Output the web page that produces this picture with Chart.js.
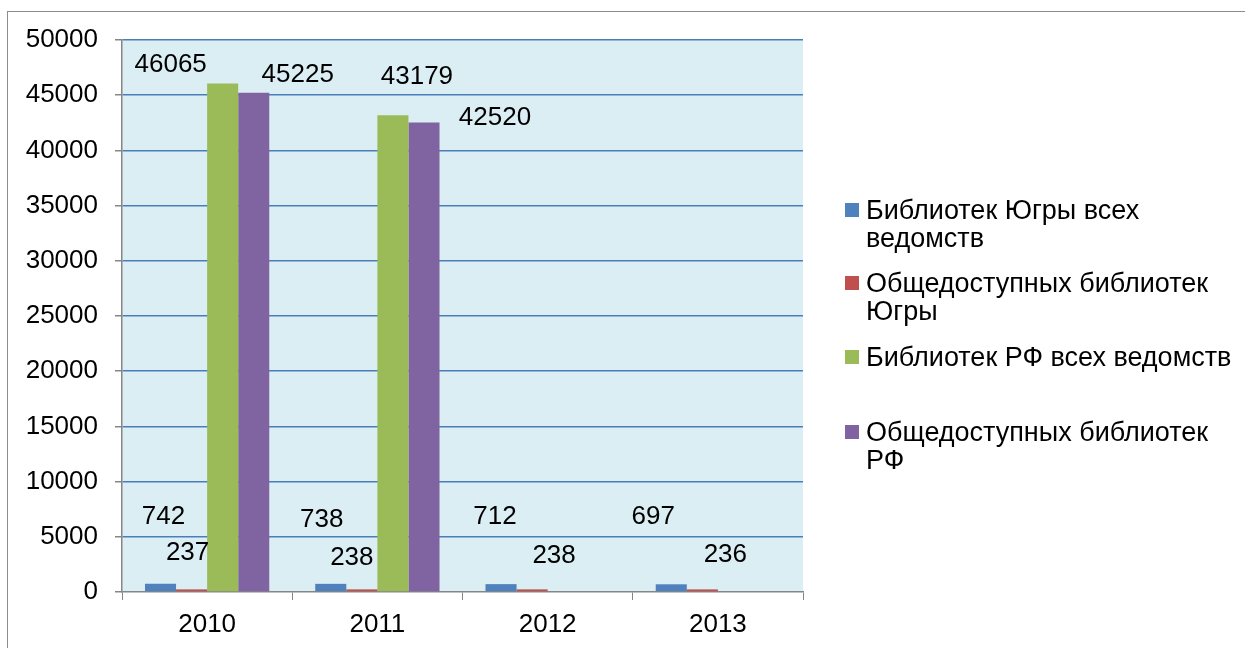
<!DOCTYPE html>
<html>
<head>
<meta charset="utf-8">
<script src="https://cdn.jsdelivr.net/npm/chart.js@4"></script>
<style>
  body { margin: 0; background: #fff; font-family: "Liberation Sans", Arial, sans-serif; }
  #wrap { position: relative; width: 1245px; height: 648px; overflow: hidden; }
  #frame { position: absolute; left: 7px; top: 11px; width: 1260px; height: 660px; border: 1px solid #8c8c8c; }
  #myChart { position: absolute; left: 0; top: 0; }
  #legend { position: absolute; left: 845px; top: 196px; font-size: 27px; line-height: 28px; color: #000; white-space: nowrap; }
  .item { position: relative; padding-left: 21px; }
  .box { position: absolute; left: 0; top: 7px; width: 14px; height: 14px; }
</style>
</head>
<body>
<div id="wrap">
  <div id="frame"></div>
  <canvas id="myChart" width="1245" height="648"></canvas>
  <div id="legend"></div>
</div>
<script>
// years
var years = ["2010", "2011", "2012", "2013"];

// series
var yugraAll = [742, 738, 712, 697];
var yugraPublic = [237, 238, 238, 236];
var rfAll = [46065, 43179, null, null];
var rfPublic = [45225, 42520, null, null];

var seriesNames = [
  ["Библиотек Югры всех", "ведомств"],
  ["Общедоступных библиотек", "Югры"],
  ["Библиотек РФ всех ведомств"],
  ["Общедоступных библиотек", "РФ"]
];
var colors = ["#4f81bd", "#c0504d", "#9bbb59", "#8064a2"];

// where each value label sits relative to the top of its bar (px)
var labelShift = [
  [[3, -67], [-9, -64], [-6, -67], [-18, -67]],
  [[-4, -37], [-10, -32], [22, -34], [23, -35]],
  [[-52, -19], [24, -38], [0, 0], [0, 0]],
  [[44, -18], [71, -5], [0, 0], [0, 0]]
];

// legend spacing between rows
var legendGaps = [0, 17, 18, 47];

var font = "Liberation Sans";

var plotBg = {
  id: "plotBg",
  beforeDraw: function (chart) {
    var a = chart.chartArea;
    var c = chart.ctx;
    c.save();
    c.fillStyle = "#dbeef4";
    c.fillRect(a.left, a.top, a.right - a.left, a.bottom - a.top);
    c.restore();
  }
};

var valueLabels = {
  id: "valueLabels",
  afterDatasetsDraw: function (chart) {
    var c = chart.ctx;
    c.save();
    c.font = "26px '" + font + "'";
    c.fillStyle = "#000";
    c.textAlign = "center";
    c.textBaseline = "middle";
    chart.data.datasets.forEach(function (ds, i) {
      var meta = chart.getDatasetMeta(i);
      meta.data.forEach(function (bar, j) {
        if (ds.data[j] == null) return;
        var s = labelShift[i][j];
        c.fillText(String(ds.data[j]), bar.x + s[0], bar.y + s[1]);
      });
    });
    c.restore();
  }
};

var allSeries = [yugraAll, yugraPublic, rfAll, rfPublic];
var datasets = allSeries.map(function (d, i) {
  return {
    label: seriesNames[i].join(" "),
    data: d,
    backgroundColor: colors[i],
    borderWidth: 0,
    barPercentage: 1,
    categoryPercentage: 0.73
  };
});

var ctx = document.getElementById("myChart");
var myChart = new Chart(ctx, {
  type: "bar",
  data: { labels: years, datasets: datasets },
  plugins: [plotBg, valueLabels],
  options: {
    responsive: false,
    animation: false,
    layout: { padding: { top: 40, right: 442, bottom: 0, left: 0 } },
    plugins: { legend: { display: false }, tooltip: { enabled: false } },
    scales: {
      x: {
        afterFit: function (s) { s.height = 56; },
        grid: {
          offset: true,
          drawOnChartArea: false,
          tickLength: 8,
          color: "#868686",
          tickColor: "#868686"
        },
        border: { color: "#868686", width: 1.5 },
        ticks: { color: "#000", font: { family: font, size: 26 }, padding: 9 }
      },
      y: {
        min: 0,
        max: 50000,
        afterFit: function (s) { s.width = 122; },
        grid: {
          color: function (c) { return c.tick && c.tick.value === 0 ? "rgba(0,0,0,0)" : "#4a7ebb"; },
          tickColor: "#868686",
          lineWidth: 1.5,
          tickLength: 7
        },
        border: { color: "#868686", width: 1.5 },
        ticks: {
          stepSize: 5000,
          color: "#000",
          font: { family: font, size: 26 },
          padding: 17,
          callback: function (v) { return String(v); }
        }
      }
    }
  }
});

// legend on the right
var lg = document.getElementById("legend");
seriesNames.forEach(function (lines, i) {
  var it = document.createElement("div");
  it.className = "item";
  it.style.marginTop = legendGaps[i] + "px";
  var b = document.createElement("span");
  b.className = "box";
  b.style.background = colors[i];
  it.appendChild(b);
  lines.forEach(function (t) {
    var l = document.createElement("div");
    l.textContent = t;
    it.appendChild(l);
  });
  lg.appendChild(it);
});
</script>
</body>
</html>
